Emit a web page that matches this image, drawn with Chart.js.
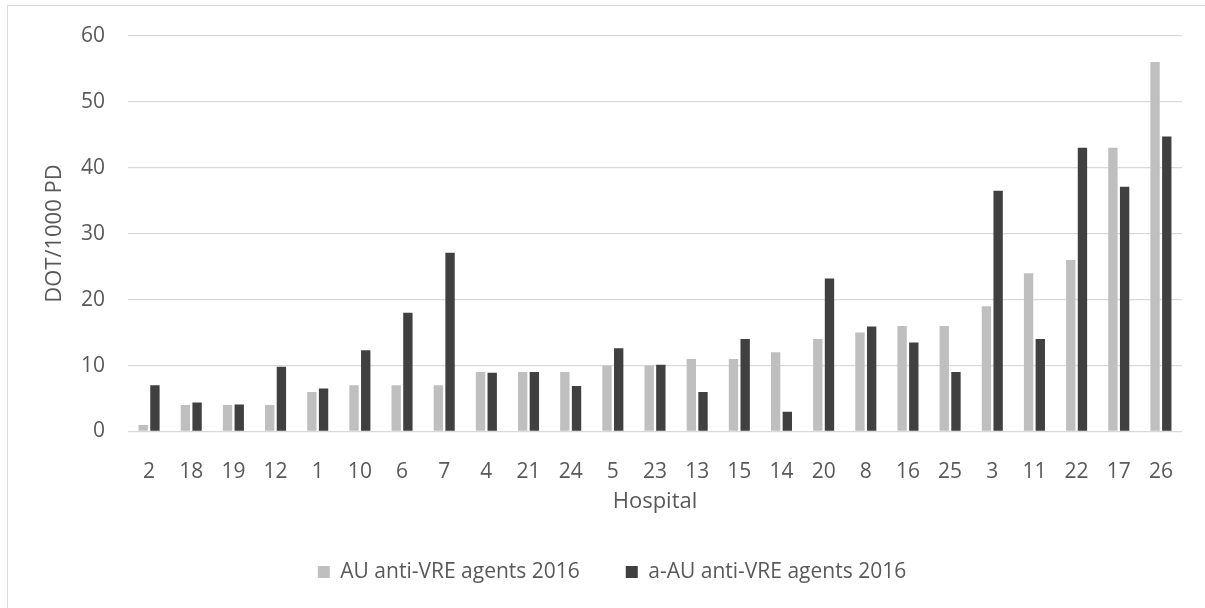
<!DOCTYPE html>
<html>
<head>
<meta charset="utf-8">
<title>AU anti-VRE agents 2016</title>
<script src="https://cdn.jsdelivr.net/npm/chart.js@4.4.1/dist/chart.umd.min.js"></script>
<style>
    html, body { margin: 0; padding: 0; background: #fff; overflow: hidden; }
    #wrap { position: relative; width: 1205px; height: 608px; }
    #frame {
        position: absolute; left: 7px; top: 5px; width: 1300px; height: 700px;
        border-left: 1px solid #d9d9d9; border-top: 1px solid #d9d9d9;
        pointer-events: none;
    }
    canvas { position: absolute; left: 0; top: 0; }
</style>
</head>
<body>
<div id="wrap">
    <div id="frame"></div>
    <canvas id="chart" width="1205" height="608"></canvas>
</div>
<script>
// 病院ごとの値
const hospitals = ['2', '18', '19', '12', '1', '10', '6', '7', '4', '21', '24', '5', '23',
    '13', '15', '14', '20', '8', '16', '25', '3', '11', '22', '17', '26'];
const auValues = [1, 4, 4, 4, 6, 7, 7, 7, 9, 9, 9, 10, 10,
    11, 11, 12, 14, 15, 16, 16, 19, 24, 26, 43, 56];
const aAuValues = [7.0, 4.4, 4.1, 9.8, 6.5, 12.3, 18.0, 27.1, 8.9, 9.0, 6.9, 12.6, 10.1,
    6.0, 14.0, 3.0, 23.2, 15.9, 13.5, 9.0, 36.5, 14.0, 43.0, 37.1, 44.7];
const seriesNames = ['AU anti-VRE agents 2016', 'a-AU anti-VRE agents 2016'];
const yTicks = [0, 10, 20, 30, 40, 50, 60];

Chart.defaults.font.family = "'Open Sans', sans-serif";
Chart.defaults.color = '#595959';

const ctx = document.getElementById('chart').getContext('2d');

new Chart(ctx, {
    type: 'bar',
    data: {
        labels: hospitals,
        datasets: [
            {
                label: seriesNames[0],
                data: auValues,
                backgroundColor: '#bfbfbf',
                borderWidth: 0,
                categoryPercentage: 0.555,
                barPercentage: 0.8
            },
            {
                label: seriesNames[1],
                data: aAuValues,
                backgroundColor: '#404040',
                borderWidth: 0,
                categoryPercentage: 0.555,
                barPercentage: 0.8
            }
        ]
    },
    options: {
        responsive: false,
        animation: false,
        layout: {
            padding: { left: 42, right: 23, top: 34, bottom: 15.5 }
        },
        plugins: {
            legend: {
                position: 'bottom',
                labels: {
                    boxWidth: 12,
                    boxHeight: 12,
                    padding: 46,
                    font: { size: 21 }
                }
            },
            tooltip: { enabled: false }
        },
        scales: {
            x: {
                grid: { display: false },
                border: { display: false },
                ticks: { padding: 20, font: { size: 21 } },
                title: {
                    display: true,
                    text: 'Hospital',
                    font: { size: 22 },
                    padding: { top: 0, bottom: 1 }
                },
                afterFit: (scale) => { scale.height = 84; }
            },
            y: {
                min: 0,
                max: 60,
                afterBuildTicks: (scale) => {
                    scale.ticks = yTicks.map(v => ({ value: v }));
                },
                grid: { color: '#d9d9d9', lineWidth: 1.3, drawTicks: false },
                border: { display: false },
                ticks: { padding: 23, font: { size: 21 } },
                title: {
                    display: true,
                    text: 'DOT/1000 PD',
                    font: { size: 22 },
                    padding: { top: 0, bottom: 0 }
                },
                afterFit: (scale) => { scale.width = 86; }
            }
        }
    }
});
</script>
</body>
</html>
